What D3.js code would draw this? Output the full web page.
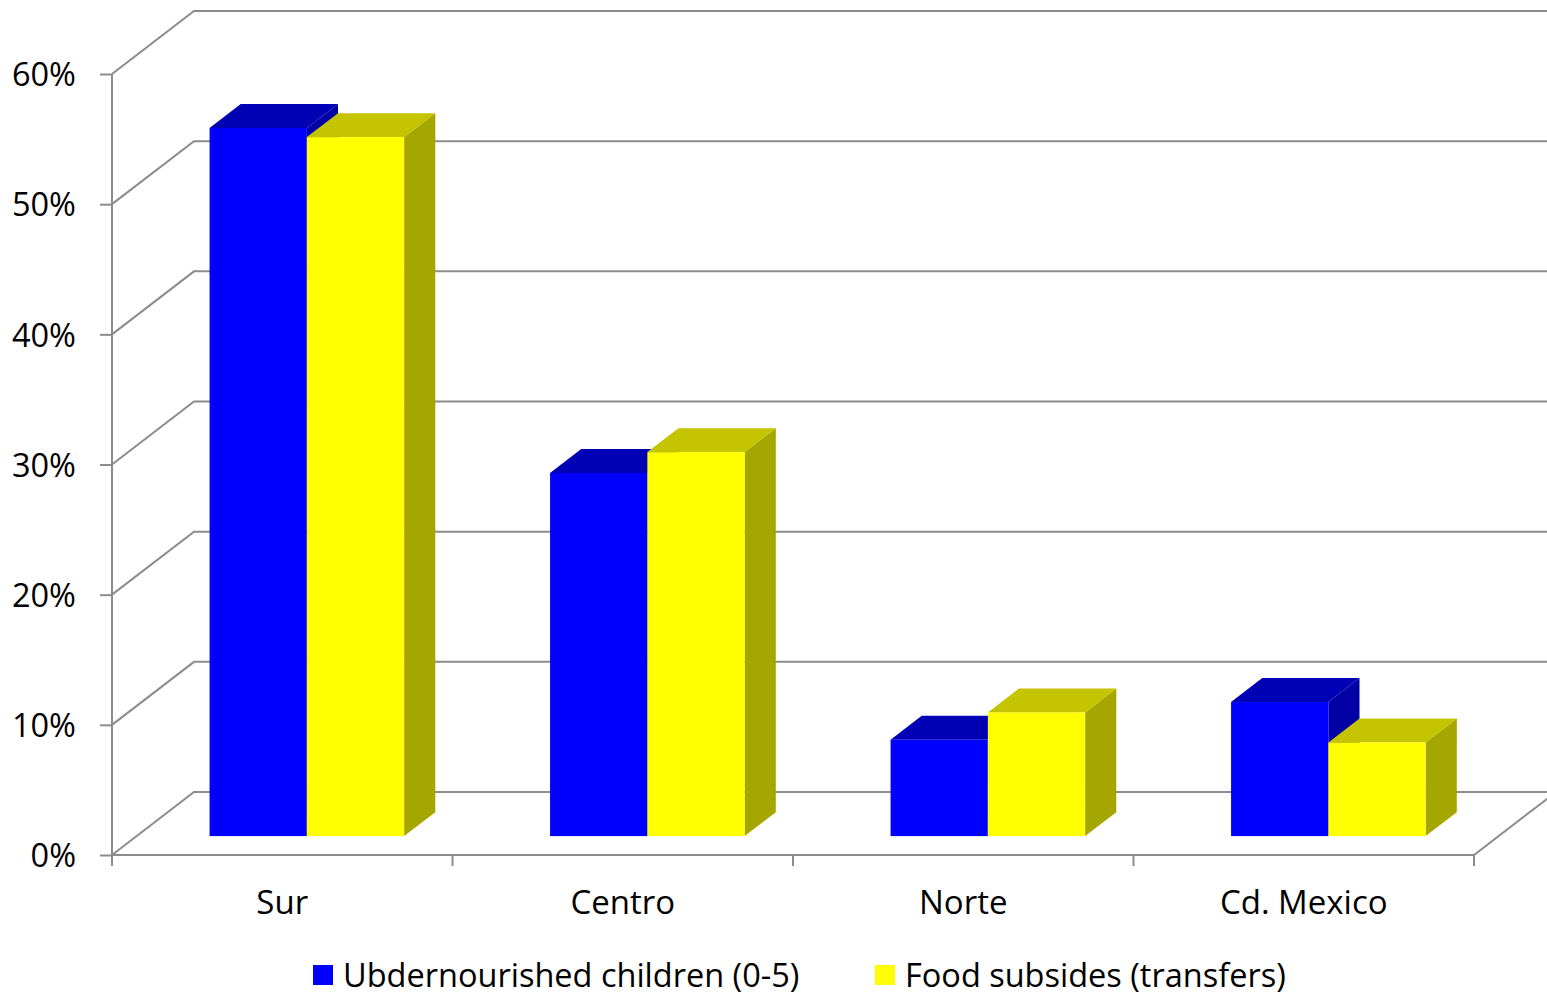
<!DOCTYPE html>
<html><head><meta charset="utf-8">
<script src="https://cdn.jsdelivr.net/npm/d3@7"></script>
<style>html,body{margin:0;padding:0;background:#fff;}svg{display:block;font-family:"Open Sans",sans-serif;}</style>
</head><body>
<svg id="chart" width="1547" height="996"></svg>
<script>
const categories = ["Sur", "Centro", "Norte", "Cd. Mexico"];
const seriesNames = ["Ubdernourished children (0-5)", "Food subsides (transfers)"];
const undernourished = [0.544, 0.279, 0.074, 0.103];
const foodSubsidies = [0.537, 0.295, 0.095, 0.072];
const yTicks = [0, 0.1, 0.2, 0.3, 0.4, 0.5, 0.6];

const colors = [
  {front: "#0000FF", top: "#0000B4", side: "#0000A4"},
  {front: "#FFFF00", top: "#C4C400", side: "#A6A600"}
];
const seriesValues = [undernourished, foodSubsidies];

const svg = d3.select("#chart");
const W = 1547;
const x0 = 112, x1 = 1474;
const depthX = 82, depthY = 63;
const barD0 = 0.30, barD1 = 0.68;
const gridColor = "#8C8C8C";

const y = d3.scaleLinear().domain([0, 0.6]).range([855, 74]);
const x = d3.scaleBand().domain(categories).range([x0, x1]).paddingInner(0).paddingOuter(0);
const gapRatio = 1.5;
const pairW = x.bandwidth() * 2 / (2 + gapRatio);
const xs = d3.scaleBand().domain([0, 1]).range([(x.bandwidth() - pairW) / 2, (x.bandwidth() + pairW) / 2]);

function P(px, v, d) { return [px + d * depthX, y(v) - d * depthY]; }
const line = d3.line();

// walls: side wall diagonals and back wall gridlines
const g = svg.append("g");
yTicks.forEach(t => {
  g.append("path").attr("d", line([P(x0, t, 0), P(x0, t, 1), [W + 10, y(t) - depthY]]))
    .attr("fill", "none").attr("stroke", gridColor).attr("stroke-width", 2);
});
// floor front & right edge
g.append("path").attr("d", line([P(x0, 0, 0), P(x1, 0, 0), P(x1, 0, 1)]))
  .attr("fill", "none").attr("stroke", gridColor).attr("stroke-width", 2);

// y axis
const yAxis = svg.append("g").attr("transform", `translate(${x0},0)`)
  .call(d3.axisLeft(y).tickValues(yTicks).tickFormat(d3.format(".0%")).tickSize(12).tickPadding(24));
yAxis.select(".domain").attr("stroke", gridColor).attr("stroke-width", 2).attr("d", `M0,${y(0.6)}V${y(0)}`);
yAxis.selectAll(".tick line").attr("stroke", gridColor).attr("stroke-width", 2);
yAxis.selectAll(".tick text").attr("font-size", 32.5).attr("fill", "#000").attr("font-family", "Open Sans").attr("dy", "0.36em");

// x axis
const xAxis = svg.append("g").attr("transform", `translate(0,${y(0)})`)
  .call(d3.axisBottom(x).tickSize(0).tickPadding(36));
xAxis.select(".domain").remove();
xAxis.selectAll(".tick text").attr("font-size", 33).attr("fill", "#000").attr("font-family", "Open Sans");
const tickXs = categories.map(c => x(c)).concat([x1]);
svg.append("g").selectAll("line").data(tickXs).join("line")
  .attr("x1", d => d).attr("x2", d => d).attr("y1", y(0)).attr("y2", y(0) + 11)
  .attr("stroke", gridColor).attr("stroke-width", 2);

// bars
const bars = svg.append("g");
categories.forEach((c, i) => {
  [0, 1].forEach(s => {
    const v = seriesValues[s][i];
    const L = x(c) + xs(s), R = L + xs.bandwidth();
    const col = colors[s];
    bars.append("path").attr("d", line([P(R, 0, barD0), P(R, 0, barD1), P(R, v, barD1), P(R, v, barD0)]) + "Z")
      .attr("fill", col.side);
    bars.append("path").attr("d", line([P(L, v, barD0), P(R, v, barD0), P(R, v, barD1), P(L, v, barD1)]) + "Z")
      .attr("fill", col.top);
    const f0 = P(L, v, barD0), f1 = P(R, 0, barD0);
    bars.append("rect").attr("x", f0[0]).attr("y", f0[1]).attr("width", f1[0] - f0[0]).attr("height", f1[1] - f0[1])
      .attr("fill", col.front);
  });
});

// legend
const legendX = [313, 875];
const leg = svg.append("g");
seriesNames.forEach((n, s) => {
  leg.append("rect").attr("x", legendX[s]).attr("y", 965).attr("width", 20).attr("height", 20).attr("fill", colors[s].front);
  leg.append("text").attr("x", legendX[s] + 30).attr("y", 987).attr("font-size", 32.5).attr("fill", "#000").text(n);
});
</script>
</body></html>
